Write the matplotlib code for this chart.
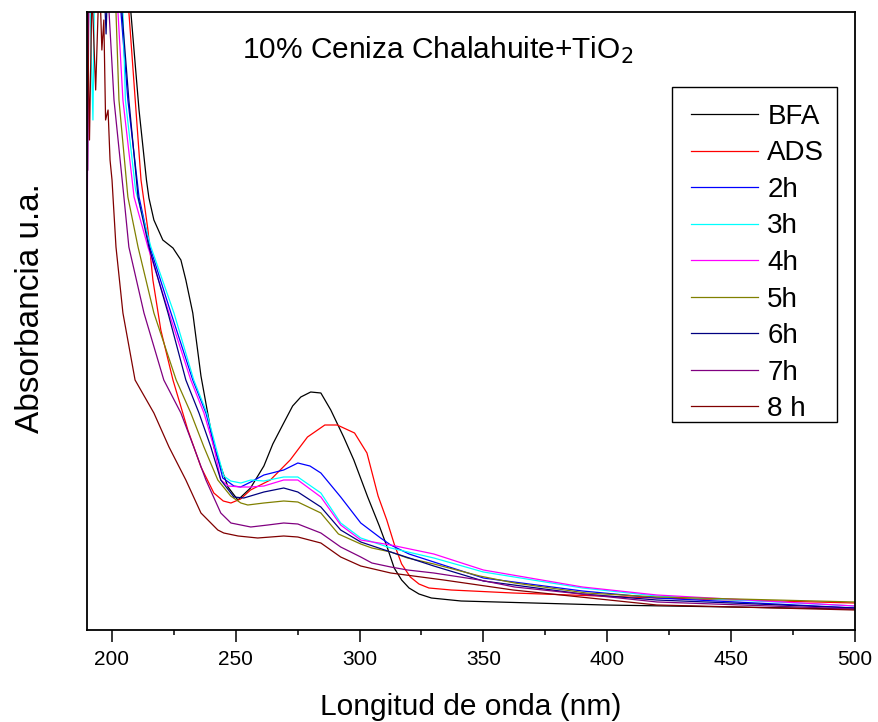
import matplotlib
matplotlib.use("Agg")
import matplotlib.pyplot as plt
from matplotlib.ticker import MultipleLocator
from matplotlib.patches import Rectangle

plt.rcParams['font.family'] = ['Liberation Sans', 'DejaVu Sans']

# ---------------- data (wavelength nm, absorbance a.u.) ----------------
wl_bfa = [197, 205, 207.7, 211, 214, 215, 217, 220.6, 224.7, 227.9, 229.9, 232.7, 236,
          241.2, 246.9, 250.9, 256, 261.4, 265, 269.4, 273, 276.3, 280.3, 284.4, 288.4,
          293.6, 297.7, 303.3, 308, 311, 314, 317, 320, 324, 329, 341, 370, 399, 450, 500]
a_bfa = [4.0, 3.4, 3.09, 2.6, 2.25, 2.16, 2.05, 1.95, 1.91, 1.85, 1.75, 1.585, 1.27,
         0.915, 0.715, 0.65, 0.71, 0.82, 0.93, 1.035, 1.12, 1.165, 1.19, 1.185, 1.10,
         0.965, 0.85, 0.665, 0.52, 0.42, 0.31, 0.25, 0.21, 0.18, 0.16, 0.145, 0.135, 0.125, 0.115, 0.105]

wl_ads = [198, 205, 206.9, 211.8, 214.6, 216.6, 219.8, 224.7, 230.7, 236, 241.2, 245, 248.1,
          252, 256, 264, 272, 279, 286, 291, 298, 303, 307.5, 311, 314, 317, 320.5, 324,
          328, 337, 362, 420, 500]
a_ads = [4.0, 3.4, 3.09, 2.25, 2.0, 1.75, 1.50, 1.25, 1.00, 0.815, 0.685, 0.645, 0.635,
         0.655, 0.70, 0.75, 0.85, 0.965, 1.025, 1.025, 0.985, 0.885, 0.67, 0.55, 0.43, 0.33,
         0.265, 0.23, 0.21, 0.20, 0.185, 0.16, 0.135]

wl_2h = [197, 203.7, 206.5, 211.0, 215.4, 223.9, 232.7, 238.0, 241.6, 244.8, 249.3, 252,
         256.1, 261.4, 269.4, 275.1, 280, 284.4, 292.4, 300.5, 308.5, 312.6, 320, 330, 350,
         390, 420, 500]
a_2h = [3.6, 3.09, 2.65, 2.165, 1.915, 1.585, 1.25, 1.085, 0.915, 0.76, 0.72, 0.715,
        0.74, 0.775, 0.80, 0.835, 0.82, 0.785, 0.665, 0.535, 0.46, 0.425, 0.38, 0.34, 0.26,
        0.195, 0.16, 0.11]

wl_3h = [190.5, 192.4, 193.3, 204.5, 205.5, 209.6, 215.8, 225.1, 233.1, 238.4, 242.0, 245.2,
         248, 252.1, 256.1, 261.4, 269.4, 275.1, 284.4, 292.4, 300.5, 312.6, 330, 350, 390,
         420, 500]
a_3h = [3.5, 2.55, 3.5, 3.09, 2.65, 2.2, 1.915, 1.585, 1.25, 1.085, 0.915, 0.77, 0.745,
        0.735, 0.75, 0.745, 0.765, 0.765, 0.685, 0.535, 0.46, 0.41, 0.36, 0.29, 0.21, 0.17, 0.12]

wl_4h = [190, 190.8, 202.5, 204.5, 209.0, 214.6, 223.1, 231.9, 237.2, 241.2, 244.0, 247,
         252.1, 256, 261.4, 269.4, 275.1, 284.4, 292.4, 300.5, 312.6, 330, 350, 390, 420, 500]
a_4h = [1.85, 3.5, 3.09, 2.65, 2.165, 1.915, 1.585, 1.25, 1.085, 0.915, 0.75, 0.72, 0.715,
        0.715, 0.72, 0.75, 0.75, 0.665, 0.525, 0.45, 0.425, 0.38, 0.30, 0.215, 0.175, 0.12]

wl_5h = [201.7, 202.9, 206.5, 210.6, 217.0, 226.0, 231.9, 237.2, 242.8, 248, 252.1, 254.9,
         261.4, 269.4, 275.1, 284.4, 291.5, 300.5, 305, 312.6, 319.4, 330, 348.5, 362.6,
         391.6, 420.2, 500]
a_5h = [3.09, 2.65, 2.165, 1.915, 1.585, 1.25, 1.085, 0.915, 0.75, 0.67, 0.635, 0.625,
        0.635, 0.645, 0.64, 0.585, 0.48, 0.43, 0.41, 0.39, 0.36, 0.33, 0.27, 0.235, 0.185,
        0.165, 0.14]

wl_6h = [196, 197.7, 199, 204.1, 206.9, 210.6, 215.0, 222.7, 229.9, 235.2, 240.0, 244.0,
         249.3, 253.3, 261.4, 269.4, 275.1, 284.4, 292.4, 300.5, 312.6, 330, 350, 390, 420, 500]
a_6h = [3.5, 2.98, 3.5, 3.09, 2.65, 2.165, 1.915, 1.585, 1.25, 1.085, 0.915, 0.75, 0.665,
        0.66, 0.69, 0.71, 0.69, 0.615, 0.50, 0.44, 0.39, 0.32, 0.245, 0.18, 0.15, 0.11]

wl_7h = [190.3, 190.9, 198.9, 200.9, 204.9, 206.9, 213.0, 221.0, 227.9, 233.1, 238.0, 244.0,
         248.1, 256.1, 263, 269.4, 275.1, 284.4, 292.4, 300.5, 305, 312.6, 319.4, 330, 348.5,
         362.6, 420.2, 500]
a_7h = [2.3, 3.5, 3.09, 2.65, 2.165, 1.915, 1.585, 1.25, 1.085, 0.915, 0.75, 0.585, 0.535,
        0.515, 0.525, 0.535, 0.53, 0.485, 0.415, 0.365, 0.335, 0.315, 0.30, 0.285, 0.25,
        0.215, 0.14, 0.105]

wl_8h = [190, 191, 192, 193.5, 195, 196, 196.8, 197.5, 198.5, 199.3, 200.1, 200.5, 201.7,
         204.5, 209.4, 217.0, 223.1, 229.9, 236.0, 242.8, 245.2, 251, 258.9, 269.4, 275.1,
         284.4, 292.4, 300.5, 312.6, 334, 362, 420, 500]
a_8h = [3.3, 2.45, 3.2, 2.7, 3.3, 2.9, 3.05, 2.55, 2.6, 2.35, 2.25, 2.165, 1.915, 1.585,
        1.25, 1.085, 0.915, 0.75, 0.585, 0.50, 0.485, 0.47, 0.46, 0.47, 0.465, 0.435, 0.365,
        0.32, 0.285, 0.25, 0.20, 0.125, 0.10]

labels = ["BFA", "ADS", "2h", "3h", "4h", "5h", "6h", "7h", "8 h"]
colors = ["#000000", "#ff0000", "#0000ff", "#00ffff", "#ff00ff",
          "#808000", "#000080", "#800080", "#800000"]
series = [(wl_bfa, a_bfa), (wl_ads, a_ads), (wl_2h, a_2h), (wl_3h, a_3h), (wl_4h, a_4h),
          (wl_5h, a_5h), (wl_6h, a_6h), (wl_7h, a_7h), (wl_8h, a_8h)]

title_text = "10% Ceniza Chalahuite+TiO$_2$"
xlabel_text = "Longitud de onda (nm)"
ylabel_text = "Absorbancia u.a."

# ---------------- figure ----------------
fig = plt.figure(figsize=(8.79, 7.22), dpi=100)
ax = fig.add_axes([87 / 879, 92 / 722, 768 / 879, 618 / 722])

for (x, y), lab, c in zip(series, labels, colors):
    ax.plot(x, y, color=c, lw=0.9, label=lab)

ax.set_xlim(190, 500)
ax.set_ylim(0, 3.09)
ax.set_yticks([])
ax.xaxis.set_major_locator(MultipleLocator(50))
ax.xaxis.set_minor_locator(MultipleLocator(25))
ax.tick_params(axis='x', which='major', direction='out', length=8.5, width=1.1,
               labelsize=15, pad=6, top=False)
ax.tick_params(axis='x', which='minor', direction='out', length=3.8, width=1.1, top=False)
for s in ax.spines.values():
    s.set_linewidth(1.3)

ax.set_xlabel(xlabel_text, fontsize=21.5)
ax.xaxis.label.set_va('baseline')
ax.xaxis.set_label_coords(0.5, -0.1375)
ax.set_ylabel(ylabel_text, fontsize=24)
ax.yaxis.label.set_va('center')
ax.yaxis.set_label_coords(-0.074, 0.521)

ax.text(0.457, 0.9235, title_text, transform=ax.transAxes, ha='center', va='baseline',
        fontsize=21.5)

# legend box drawn as a frame rectangle, entries placed inside it
ax.add_patch(Rectangle((0.762, 0.337), 0.215, 0.542, transform=ax.transAxes,
                       facecolor='white', edgecolor='black', lw=1.0, zorder=4.5))
leg = ax.legend(loc='upper right', bbox_to_anchor=(0.9727, 0.8673), borderaxespad=0,
                fontsize=20, frameon=False, handlelength=2.41, handletextpad=0.35,
                labelspacing=0.38, borderpad=0.35)
leg.set_zorder(5)

fig.savefig("out.png", dpi=100)
